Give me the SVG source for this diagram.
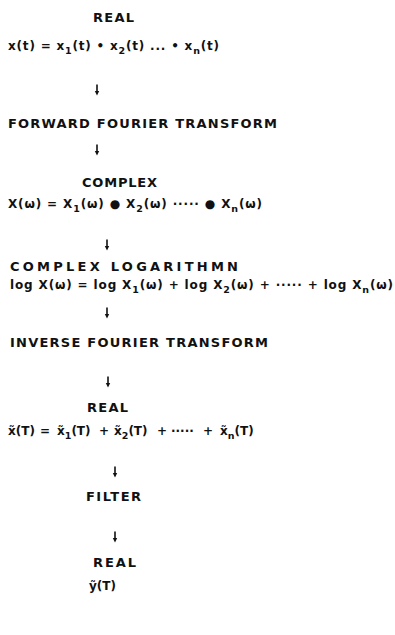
<svg xmlns="http://www.w3.org/2000/svg" width="395" height="635" viewBox="0 0 395 635">
<style>
.lbl{font-family:"DejaVu Sans","Liberation Sans",sans-serif;font-weight:bold;font-size:13px;fill:#111}
.eq{font-family:"DejaVu Sans","Liberation Sans",sans-serif;font-weight:bold;font-size:12px;fill:#111}
.sub{font-size:9.5px}
.arr{stroke:#111;stroke-width:1.6;fill:none}
.head{fill:#111}
</style>
<rect width="395" height="635" fill="#fff"/>
<g id="connectors">
<path class="arr" d="M97,84.5 V93"/><path class="head" d="M94.8,91 L97,95.5 L99.2,91 Z"/>
<path class="arr" d="M97,144.5 V153"/><path class="head" d="M94.8,151 L97,155.5 L99.2,151 Z"/>
<path class="arr" d="M107,239.5 V248"/><path class="head" d="M104.8,246 L107,250.5 L109.2,246 Z"/>
<path class="arr" d="M107,307.5 V316"/><path class="head" d="M104.8,314 L107,318.5 L109.2,314 Z"/>
<path class="arr" d="M108,376.5 V385"/><path class="head" d="M105.8,383 L108,387.5 L110.2,383 Z"/>
<path class="arr" d="M115,466.5 V475"/><path class="head" d="M112.8,473 L115,477.5 L117.2,473 Z"/>
<path class="arr" d="M115,531.5 V540"/><path class="head" d="M112.8,538 L115,542.5 L117.2,538 Z"/>
</g>
<g id="real1"><text class="lbl" x="93" y="22" textLength="41" lengthAdjust="spacing">REAL</text></g>
<g id="eq1"><text class="eq" x="8" y="50" textLength="211" lengthAdjust="spacing">x(t) = x<tspan class="sub" dy="3.5">1</tspan><tspan dy="-3.5">(t) • x</tspan><tspan class="sub" dy="3.5">2</tspan><tspan dy="-3.5">(t) ... • x</tspan><tspan class="sub" dy="3.5">n</tspan><tspan dy="-3.5">(t)</tspan></text></g>
<g id="fft"><text class="lbl" x="8" y="128" textLength="269" lengthAdjust="spacing">FORWARD FOURIER TRANSFORM</text></g>
<g id="complex"><text class="lbl" x="82" y="187" textLength="75" lengthAdjust="spacing">COMPLEX</text></g>
<g id="eq2"><text class="eq" x="8" y="208" textLength="254" lengthAdjust="spacing">X(ω) = X<tspan class="sub" dy="3.5">1</tspan><tspan dy="-3.5">(ω) ● X</tspan><tspan class="sub" dy="3.5">2</tspan><tspan dy="-3.5">(ω) ····· ● X</tspan><tspan class="sub" dy="3.5">n</tspan><tspan dy="-3.5">(ω)</tspan></text></g>
<g id="clog"><text class="lbl" x="10" y="271" textLength="228" lengthAdjust="spacing">COMPLEX LOGARITHMN</text></g>
<g id="eq3"><text class="eq" x="10" y="289" textLength="383" lengthAdjust="spacing">log X(ω) = log X<tspan class="sub" dy="3.5">1</tspan><tspan dy="-3.5">(ω) + log X</tspan><tspan class="sub" dy="3.5">2</tspan><tspan dy="-3.5">(ω) + ····· + log X</tspan><tspan class="sub" dy="3.5">n</tspan><tspan dy="-3.5">(ω)</tspan></text></g>
<g id="ifft"><text class="lbl" x="10" y="347" textLength="258" lengthAdjust="spacing">INVERSE FOURIER TRANSFORM</text></g>
<g id="real2"><text class="lbl" x="87" y="412" textLength="41" lengthAdjust="spacing">REAL</text></g>
<g id="eq4"><text class="eq" y="435"><tspan x="8">x̃(T)</tspan><tspan x="40">=</tspan><tspan x="57">x̃</tspan><tspan class="sub" dy="3.5">1</tspan><tspan dy="-3.5">(T)</tspan><tspan x="99">+</tspan><tspan x="114">x̃</tspan><tspan class="sub" dy="3.5">2</tspan><tspan dy="-3.5">(T)</tspan><tspan x="157">+</tspan><tspan x="171">·····</tspan><tspan x="203">+</tspan><tspan x="220">x̃</tspan><tspan class="sub" dy="3.5">n</tspan><tspan dy="-3.5">(T)</tspan></text></g>
<g id="filter"><text class="lbl" x="86" y="501" textLength="55" lengthAdjust="spacing">FILTER</text></g>
<g id="real3"><text class="lbl" x="93" y="567" textLength="43" lengthAdjust="spacing">REAL</text></g>
<g id="yout"><text class="eq" x="89" y="590">ỹ(T)</text></g>
</svg>
